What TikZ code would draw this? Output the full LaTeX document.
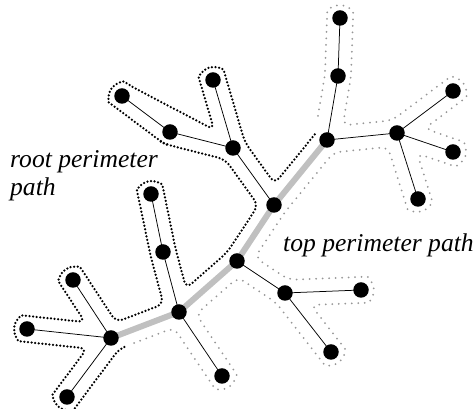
\documentclass[tikz,border=0pt]{standalone}
\usepackage{fontspec}
\newfontfamily\lblfont{Liberation Serif}
\usetikzlibrary{calc}
\pgfdeclarelayer{bg}
\pgfsetlayers{bg,main}
\definecolor{trunkgray}{RGB}{192,192,192}
\definecolor{dotgray}{RGB}{150,150,150}
\tikzset{
  dot/.style={circle, fill=black, inner sep=0pt, minimum size=15.5pt},
  treeline/.style={line width=0.75pt},
  trunk/.style={line width=6pt, draw=trunkgray, line join=round},
  blackdots/.style={line width=2.5pt, line cap=round, dash pattern=on 0pt off 3.6pt, rounded corners=7pt},
  graydots/.style={draw=dotgray, line width=2pt, line cap=round, dash pattern=on 0pt off 6.5pt, rounded corners=7pt},
  lbl/.style={font=\lblfont\fontsize{25.6pt}{28pt}\selectfont\itshape, anchor=base west, inner sep=0pt}
}
\begin{document}
\begin{tikzpicture}[x=1pt,y=1pt]
\useasboundingbox (0,0) rectangle (475,409);
% nodes
\node[dot] (A) at (111,71) {};
\node[dot] (B) at (179,97) {};
\node[dot] (C) at (237,148) {};
\node[dot] (D) at (274,204) {};
\node[dot] (E) at (327,269) {};
\node[dot] (F) at (338,333) {};
\node[dot] (G) at (340,391) {};
\node[dot] (H) at (397,276) {};
\node[dot] (I) at (453,318) {};
\node[dot] (J) at (453,257) {};
\node[dot] (K) at (418,210) {};
\node[dot] (L) at (285,116) {};
\node[dot] (M) at (361,119) {};
\node[dot] (N) at (331,57) {};
\node[dot] (O) at (222,33) {};
\node[dot] (P) at (163,157) {};
\node[dot] (Q) at (151,215) {};
\node[dot] (R) at (73,129) {};
\node[dot] (S) at (27,80) {};
\node[dot] (T) at (67,12) {};
\node[dot] (U) at (233,261) {};
\node[dot] (V) at (170,277) {};
\node[dot] (W) at (122,313) {};
\node[dot] (X) at (213,329) {};
% labels
\node[lbl] (rootlbl) at (10,241) {root perimeter};
\node[lbl] (rootlbl2) at (10,213) {path};
\node[lbl] (toplbl) at (283,157) {top perimeter path};
% edges
\begin{pgfonlayer}{bg}
\draw[trunk] (A.center) -- (B.center) -- (C.center) -- (D.center) -- (E.center);
\foreach \sa/\sb in {E/F,F/G,E/H,H/I,H/J,H/K,D/U,U/X,U/V,V/W,C/L,L/M,L/N,B/O,B/P,P/Q,A/R,A/S,A/T}
  \draw[treeline] (\sa.center) -- (\sb.center);
\end{pgfonlayer}
% offset points for each traversal
\foreach \sa/\sb in {E/D,D/U,U/X,X/U,U/V,V/W,W/V,V/U,U/D,D/C,C/B,B/P,P/Q,Q/P,P/B,B/A,A/R,R/A,A/S,S/A,A/T,T/A,A/B,B/O,O/B,B/C,C/L,L/N,N/L,L/M,M/L,L/C,C/D,D/E,E/H,H/K,K/H,H/J,J/H,H/I,I/H,H/E,E/F,F/G,G/F,F/E}{
  \coordinate (\sa\sb1) at ($(\sa)!13pt!-90:(\sb)$);
  \coordinate (\sa\sb2) at ($(\sb)!13pt!90:(\sa)$);
}
% concave corners
\coordinate (cEFD) at (intersection of FE1--FE2 and ED1--ED2);
\coordinate (cDEU) at (intersection of ED1--ED2 and DU1--DU2);
\coordinate (cUDX) at (intersection of DU1--DU2 and UX1--UX2);
\coordinate (cUXV) at (intersection of XU1--XU2 and UV1--UV2);
\coordinate (cUVD) at (intersection of VU1--VU2 and UD1--UD2);
\coordinate (cDUC) at (intersection of UD1--UD2 and DC1--DC2);
\coordinate (cCDB) at (intersection of DC1--DC2 and CB1--CB2);
\coordinate (cBCP) at (intersection of CB1--CB2 and BP1--BP2);
\coordinate (cPBQ) at (intersection of BP1--BP2 and PQ1--PQ2);
\coordinate (cBPA) at (intersection of PB1--PB2 and BA1--BA2);
\coordinate (cABR) at (intersection of BA1--BA2 and AR1--AR2);
\coordinate (cARS) at (intersection of RA1--RA2 and AS1--AS2);
\coordinate (cAST) at (intersection of SA1--SA2 and AT1--AT2);
\coordinate (cATB) at (intersection of TA1--TA2 and AB1--AB2);
\coordinate (cBAO) at (intersection of AB1--AB2 and BO1--BO2);
\coordinate (cBOC) at (intersection of OB1--OB2 and BC1--BC2);
\coordinate (cCBL) at (intersection of BC1--BC2 and CL1--CL2);
\coordinate (cLCN) at (intersection of CL1--CL2 and LN1--LN2);
\coordinate (cLNM) at (intersection of NL1--NL2 and LM1--LM2);
\coordinate (cLMC) at (intersection of ML1--ML2 and LC1--LC2);
\coordinate (cCLD) at (intersection of LC1--LC2 and CD1--CD2);
\coordinate (cDCE) at (intersection of CD1--CD2 and DE1--DE2);
\coordinate (cEDH) at (intersection of DE1--DE2 and EH1--EH2);
\coordinate (cHEK) at (intersection of EH1--EH2 and HK1--HK2);
\coordinate (cHKJ) at (intersection of KH1--KH2 and HJ1--HJ2);
\coordinate (cHJI) at (intersection of JH1--JH2 and HI1--HI2);
\coordinate (cHIE) at (intersection of IH1--IH2 and HE1--HE2);
\coordinate (cEHF) at (intersection of HE1--HE2 and EF1--EF2);
\coordinate (cFGE) at (intersection of GF1--GF2 and FE1--FE2);
% nearly straight convex corners
\coordinate (vP) at ($(QP2)!0.5!(PB1)$);
\coordinate (vF) at ($(EF2)!0.5!(FG1)$);
\coordinate (blackend) at ($(cATB)!5pt!(cBAO)$);
\coordinate (graystart) at ($(cATB)!16pt!(cBAO)$);
\coordinate (grayend) at ($(cEFD)!14pt!(cFGE)$);
% root perimeter path
\draw[blackdots] (cEFD) -- (cDEU) -- (cUDX) -- (UX2)
  arc[start angle=16.4, delta angle=180, radius=13pt] -- (cUXV) -- (VW2)
  arc[start angle=53.1, delta angle=180, radius=13pt] -- (WV2) -- (VU1) -- (cUVD)
  -- (cDUC) -- (cCDB) -- (cBCP) -- (cPBQ) -- (PQ2)
  arc[start angle=11.7, delta angle=180, radius=13pt] -- (vP) -- (cBPA)
  -- (cABR) -- (AR2)
  arc[start angle=33.2, delta angle=180, radius=13pt] -- (cARS) -- (AS2)
  arc[start angle=83.9, delta angle=180, radius=13pt] -- (cAST) -- (AT2)
  arc[start angle=143.3, delta angle=180, radius=13pt] -- (cATB) -- (blackend);
% top perimeter path
\draw[graydots] (graystart) -- (cBAO) -- (BO2)
  arc[start angle=213.9, delta angle=180, radius=13pt] -- (cBOC) -- (cCBL) -- (cLCN) -- (LN2)
  arc[start angle=217.9, delta angle=180, radius=13pt] -- (cLNM) -- (LM2)
  arc[start angle=272.3, delta angle=180, radius=13pt] -- (cLMC) -- (cCLD) -- (cDCE)
  -- (cEDH) -- (cHEK) -- (HK2)
  arc[start angle=197.6, delta angle=180, radius=13pt] -- (cHKJ) -- (HJ2)
  arc[start angle=251.3, delta angle=180, radius=13pt] -- (cHJI) -- (HI2)
  arc[start angle=306.9, delta angle=180, radius=13pt] -- (cHIE) -- (cEHF) -- (vF)
  -- (FG2)
  arc[start angle=358, delta angle=180, radius=13pt] -- (cFGE) -- (grayend);
\end{tikzpicture}
\end{document}
